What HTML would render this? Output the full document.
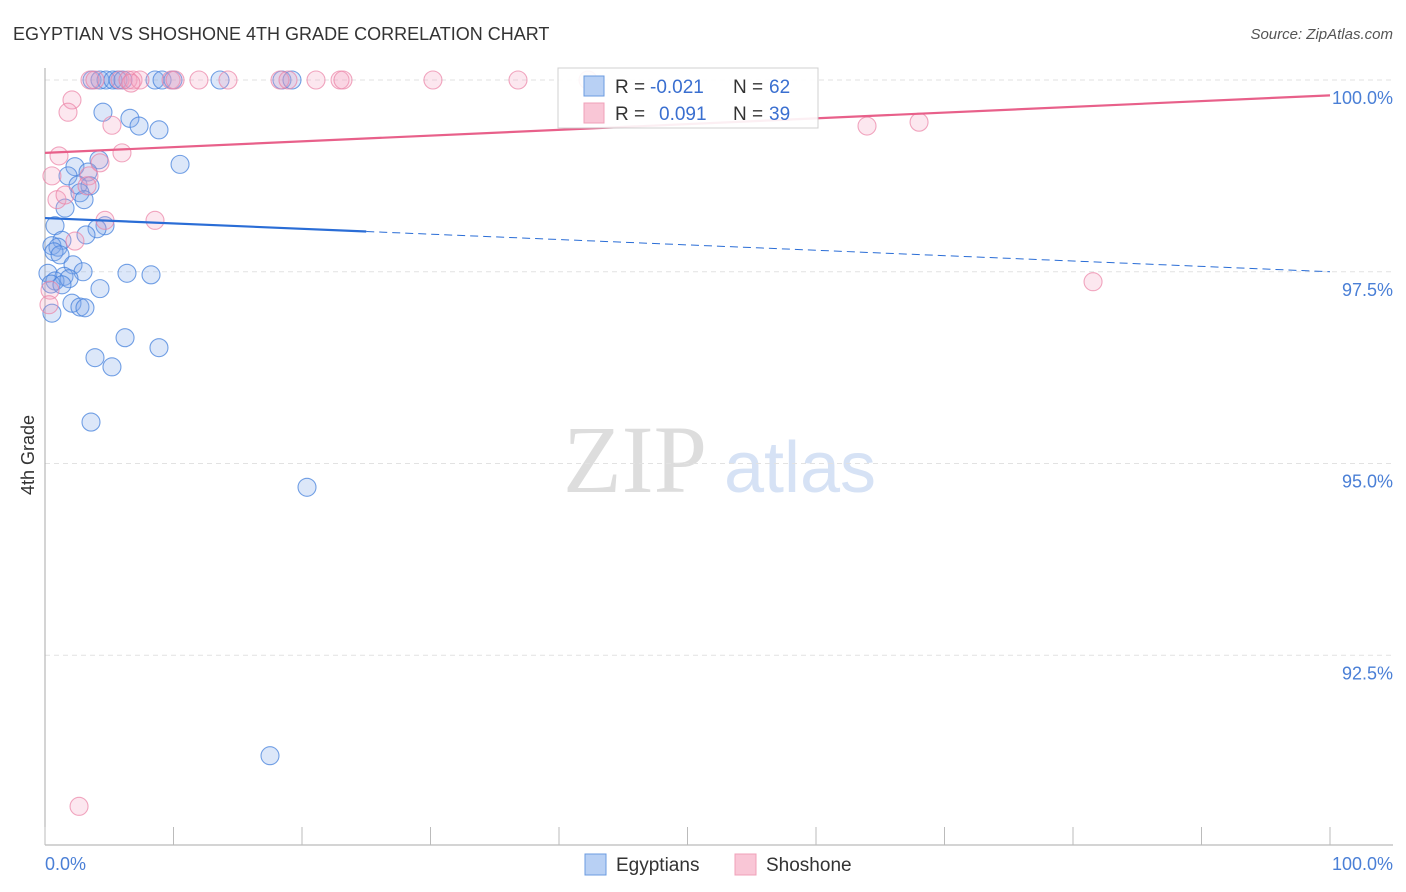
<!DOCTYPE html>
<html><head><meta charset="utf-8"><style>
body{margin:0;background:#fff;font-family:"Liberation Sans",sans-serif}
svg{display:block}
</style></head><body>
<svg id="chart" width="1406" height="892" xmlns="http://www.w3.org/2000/svg">
<text x="13" y="40" font-size="18" fill="#333">EGYPTIAN VS SHOSHONE 4TH GRADE CORRELATION CHART</text>
<text x="1393" y="39" font-size="15" fill="#555" text-anchor="end" font-style="italic">Source: ZipAtlas.com</text>
<text x="635" y="492" font-size="96" fill="#ddd" text-anchor="middle" font-family="Liberation Serif,serif">ZIP</text>
<text x="800" y="492" font-size="72" fill="#d6e2f5" text-anchor="middle">atlas</text>
<text transform="translate(34,455) rotate(-90)" font-size="18" fill="#333" text-anchor="middle">4th Grade</text>
<g id="grid"></g><g id="axes"></g><g id="pts"></g><g id="trends"></g>
<g>
<rect x="558" y="68" width="260" height="60" fill="#fff" stroke="#ccc" opacity="0.9"/>
<rect x="584" y="76" width="20" height="20" fill="#b8d0f4" stroke="#6b9be0"/>
<text x="615" y="93" font-size="19" fill="#333">R =</text>
<text x="650" y="93" font-size="19" fill="#3a6fd0">-0.021</text>
<text x="733" y="93" font-size="19" fill="#333">N =</text>
<text x="769" y="93" font-size="19" fill="#3a6fd0">62</text>
<rect x="584" y="103" width="20" height="20" fill="#f9c6d6" stroke="#f0a0b8"/>
<text x="615" y="120" font-size="19" fill="#333">R =</text>
<text x="659" y="120" font-size="19" fill="#3a6fd0">0.091</text>
<text x="733" y="120" font-size="19" fill="#333">N =</text>
<text x="769" y="120" font-size="19" fill="#3a6fd0">39</text>
</g>
<g>
<rect x="585" y="854" width="21" height="21" fill="#b8d0f4" stroke="#6b9be0"/>
<text x="616" y="871" font-size="19" fill="#333">Egyptians</text>
<rect x="735" y="854" width="21" height="21" fill="#f9c6d6" stroke="#f0a0b8"/>
<text x="766" y="871" font-size="19" fill="#333">Shoshone</text>
</g>
</svg>
<script>
const yTicks=[100,97.5,95,92.5];
const yTickLabels=["100.0%","97.5%","95.0%","92.5%"];
const xTickLabels=["0.0%","100.0%"];
const egyX=[3.66,4.28,4.75,5.29,5.68,6.07,8.56,9.11,9.96,13.62,18.44,19.22,4.51,6.61,7.32,8.87,10.51,4.2,2.33,1.79,3.35,2.57,3.5,2.72,3.04,1.56,0.78,4.67,4.05,3.19,1.32,0.54,1.01,0.7,1.17,2.18,2.96,0.23,1.48,0.78,1.87,0.47,1.32,4.28,6.38,8.25,2.1,2.72,3.11,0.54,6.23,8.87,3.89,5.21,3.58,20.39,17.51];
const egyY=[100,100,100,100,100,100,100,100,100,100,100,100,99.58,99.5,99.4,99.35,98.9,98.96,98.87,98.75,98.8,98.63,98.62,98.53,98.44,98.33,98.1,98.1,98.06,97.98,97.91,97.84,97.82,97.76,97.72,97.59,97.5,97.48,97.44,97.38,97.41,97.34,97.33,97.28,97.48,97.46,97.09,97.04,97.03,96.96,96.64,96.51,96.38,96.26,95.54,94.69,91.19];
const shoX=[3.5,3.89,5.84,6.46,6.85,7.39,9.81,10.12,11.98,14.24,18.29,18.91,21.09,22.96,23.19,30.19,36.81,42.26,6.69,2.1,1.79,5.21,5.99,1.09,4.28,0.54,3.42,3.27,0.93,1.56,4.67,8.56,2.33,0.39,0.31,63.97,68.02,81.56,2.65];
const shoY=[100,100,100,100,100,100,100,100,100,100,100,100,100,100,100,100,100,100,99.96,99.74,99.58,99.41,99.05,99.01,98.92,98.75,98.75,98.62,98.44,98.5,98.17,98.17,97.9,97.26,97.07,99.4,99.45,97.37,90.53];
const egyTrend=[98.2,97.5], shoTrend=[99.05,99.8];
const egySolidEnd=25;
const sx=v=>45+v*12.85, sy=v=>80+(100-v)*76.7;
const NS="http://www.w3.org/2000/svg";
function mk(tag,attrs,parent){const e=document.createElementNS(NS,tag);for(const k in attrs)e.setAttribute(k,attrs[k]);parent.appendChild(e);return e;}
const grid=document.getElementById('grid'),axes=document.getElementById('axes'),pts=document.getElementById('pts'),tr=document.getElementById('trends');
yTicks.forEach((t,i)=>{
 const l=mk('line',{x1:45,x2:1393,y1:sy(t),y2:sy(t),stroke:'#e2e2e2','stroke-dasharray':'5,4'},grid);
 
 
 const tx=mk('text',{x:1393,y:sy(t)+24,'font-size':18,fill:'#4a7fd6','text-anchor':'end'},axes);
 tx.textContent=yTickLabels[i];
 
 
});
const ya=mk('line',{x1:45,x2:45,y1:68,y2:845,stroke:'#aaa'},axes);


const xa=mk('line',{x1:45,x2:1393,y1:845,y2:845,stroke:'#aaa'},axes);


for(let i=0;i<=10;i++){const t=mk('line',{x1:sx(i*10),x2:sx(i*10),y1:827,y2:845,stroke:'#bbb'},axes);
 
 }
const xl0=mk('text',{x:45,y:870,'font-size':18,fill:'#4a7fd6'},axes);xl0.textContent=xTickLabels[0];


const xl1=mk('text',{x:1393,y:870,'font-size':18,fill:'#4a7fd6','text-anchor':'end'},axes);xl1.textContent=xTickLabels[1];


egyX.forEach((x,i)=>{const c=mk('circle',{cx:sx(x),cy:sy(egyY[i]),r:9,fill:'rgba(130,170,235,0.28)',stroke:'rgba(70,130,220,0.75)','stroke-width':1.1},pts);
 
 });
shoX.forEach((x,i)=>{const c=mk('circle',{cx:sx(x),cy:sy(shoY[i]),r:9,fill:'rgba(245,160,190,0.25)',stroke:'rgba(235,130,165,0.7)','stroke-width':1.1},pts);
 
 });
const ey=v=>egyTrend[0]+(egyTrend[1]-egyTrend[0])*v/100;
const l1=mk('line',{x1:sx(0),y1:sy(ey(0)),x2:sx(egySolidEnd),y2:sy(ey(egySolidEnd)),stroke:'#2a6dd6','stroke-width':2.2},tr);


const l2=mk('line',{x1:sx(egySolidEnd),y1:sy(ey(egySolidEnd)),x2:sx(100),y2:sy(ey(100)),stroke:'#2a6dd6','stroke-width':1,'stroke-dasharray':'8,5'},tr);


const l3=mk('line',{x1:sx(0),y1:sy(shoTrend[0]),x2:sx(100),y2:sy(shoTrend[1]),stroke:'#e8608a','stroke-width':2.2},tr);


</script>
</body></html>
